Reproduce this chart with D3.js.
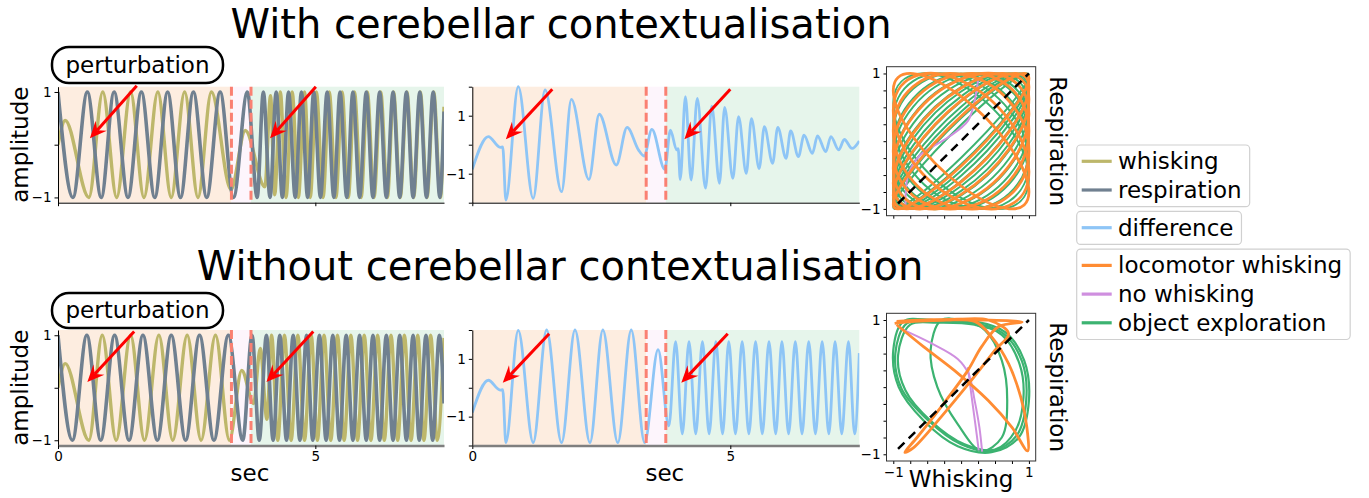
<!DOCTYPE html>
<html>
<head>
<meta charset="utf-8">
<script src="https://cdn.jsdelivr.net/npm/d3@7"></script>
<style>
  body { margin: 0; background: #fff; }
  svg { display: block; font-family: "DejaVu Sans", sans-serif; }
</style>
</head>
<body>
<svg id="canvas" width="1369" height="498"></svg>
<script>
// ---- data ----
const tRange = [0, 7.5];
const perturbation = [3.37, 3.75];
const secTicks = [0, 5];
const ampTicks = [-1, 0, 1];
const diffTicks = [-2, -1, 0, 1, 2];
const phaseTicks = [-1, -0.75, -0.5, -0.25, 0, 0.25, 0.5, 0.75, 1];

// extrema [sec, value] of each trace
const respTop = [[0,1],[0.29,-1],[0.57,1],[0.84,-1],[1.09,1],[1.36,-1],[1.62,1],[1.88,-1],[2.13,1],[2.38,-1],[2.63,1],[2.89,-1],[3.15,1],[3.41,-1],[3.68,1],[3.87,-1],[3.99,1],[4.12,-1],[4.24,1],[4.36,-1],[4.48,1],[4.61,-1],[4.73,1],[4.85,-1],[4.97,1],[5.10,-1],[5.23,1],[5.36,-1],[5.48,1],[5.61,-1],[5.73,1],[5.86,-1],[5.99,1],[6.12,-1],[6.25,1],[6.38,-1],[6.51,1],[6.64,-1],[6.77,1],[6.90,-1],[7.03,1],[7.16,-1],[7.29,1],[7.42,-1],[7.5,0.63]];
const whiskTop = [[0,0],[0.14,0.46],[0.60,-1],[0.87,1],[1.14,-1],[1.41,1],[1.67,-1],[1.94,1],[2.20,-1],[2.46,1],[2.72,-1],[2.98,1],[3.36,-0.85],[3.64,0.27],[4.02,-0.8],[4.13,0.93],[4.21,-0.95],[4.32,1],[4.43,-1],[4.55,1],[4.67,-1],[4.79,1],[4.90,-1],[5.02,1],[5.15,-1],[5.27,1],[5.40,-1],[5.52,1],[5.64,-1],[5.76,1],[5.89,-1],[6.01,1],[6.14,-1],[6.27,1],[6.40,-1],[6.52,1],[6.65,-1],[6.78,1],[6.91,-1],[7.04,1],[7.17,-1],[7.30,1],[7.43,-1],[7.5,0.72]];
const diffTop = [[0,-0.85],[0.31,0.28],[0.54,-0.09],[0.59,-0.08],[0.65,-1.91],[0.89,2.0],[1.18,-1.85],[1.41,1.89],[1.73,-1.62],[1.92,1.56],[2.26,-1.2],[2.46,1.05],[2.79,-0.7],[3.0,0.6],[3.22,-0.18],[3.33,-0.39],[3.48,0.53],[3.73,-0.85],[3.84,0.5],[3.96,-0.18],[3.99,-0.14],[4.03,-1.2],[4.13,1.66],[4.24,-1.22],[4.36,1.6],[4.52,-1.5],[4.64,1.33],[4.79,-1.33],[4.89,1.29],[5.05,-1.16],[5.16,0.97],[5.31,-0.99],[5.41,0.9],[5.56,-0.82],[5.66,0.62],[5.82,-0.64],[5.92,0.6],[6.08,-0.47],[6.17,0.48],[6.32,-0.41],[6.43,0.33],[6.59,-0.3],[6.69,0.3],[6.85,-0.24],[6.95,0.28],[7.1,-0.18],[7.21,0.18],[7.36,-0.13],[7.5,0.13]];

const respBottom = [[0,1],[0.28,-1],[0.56,1],[0.83,-1],[1.10,1],[1.38,-1],[1.65,1],[1.93,-1],[2.20,1],[2.48,-1],[2.75,1],[3.03,-1],[3.31,1],[3.59,-1],[3.77,1],[3.91,-1],[4.05,1],[4.18,-1],[4.31,1],[4.44,-1],[4.57,1],[4.70,-1],[4.83,1],[4.95,-1],[5.08,1],[5.21,-1],[5.34,1],[5.47,-1],[5.60,1],[5.73,-1],[5.86,1],[5.99,-1],[6.12,1],[6.25,-1],[6.38,1],[6.51,-1],[6.64,1],[6.77,-1],[6.90,1],[7.02,-1],[7.15,1],[7.28,-1],[7.41,1],[7.5,-0.3]];
const whiskBottom = [[0,0],[0.14,0.46],[0.60,-1],[0.86,1],[1.13,-1],[1.41,1],[1.68,-1],[1.96,1],[2.23,-1],[2.51,1],[2.78,-1],[3.06,1],[3.33,-1],[3.57,0.33],[3.80,-0.3],[3.93,0.75],[4.06,-0.6],[4.15,1],[4.27,-1],[4.40,1],[4.53,-1],[4.66,1],[4.79,-1],[4.92,1],[5.04,-1],[5.17,1],[5.30,-1],[5.43,1],[5.56,-1],[5.69,1],[5.82,-1],[5.95,1],[6.08,-1],[6.21,1],[6.34,-1],[6.47,1],[6.60,-1],[6.73,1],[6.86,-1],[6.99,1],[7.11,-1],[7.24,1],[7.37,-1],[7.5,0.95]];
const diffBottom = [[0,-0.86],[0.31,0.26],[0.54,-0.08],[0.59,-0.07],[0.65,-1.9],[0.89,1.99],[1.18,-1.9],[1.44,2.0],[1.73,-1.9],[1.99,2.0],[2.28,-1.9],[2.53,2.0],[2.82,-1.9],[3.08,2.0],[3.34,-1.9],[3.6,1.32],[3.81,-1.32],[3.94,1.6],[4.07,-1.6],[4.2,1.6],[4.33,-1.6],[4.46,1.6],[4.59,-1.6],[4.72,1.6],[4.85,-1.6],[4.97,1.6],[5.10,-1.6],[5.23,1.6],[5.36,-1.6],[5.49,1.6],[5.62,-1.6],[5.75,1.6],[5.88,-1.6],[6.0,1.6],[6.13,-1.6],[6.26,1.6],[6.39,-1.6],[6.52,1.6],[6.65,-1.6],[6.78,1.6],[6.91,-1.6],[7.03,1.6],[7.16,-1.6],[7.29,1.6],[7.41,-1.6],[7.5,1.2]];

// arrows [tail sec, tail value, tip sec, tip value]
const arrowsAmpTop = [[1.53,1.12,0.62,0.12],[5.01,1.10,4.12,0.12]];
const arrowsDiffTop = [[1.55,1.91,0.65,0.19],[5.0,1.91,4.11,0.19]];
const arrowsAmpBottom = [[1.48,1.07,0.57,0.11],[4.96,1.07,4.05,0.11]];
const arrowsDiffBottom = [[1.49,1.87,0.59,0.17],[4.95,1.87,4.05,0.17]];

// phase plots: top loops given by where each loop touches the frame (whisking = 1 at respiration = c)
const greenTopLoops = [-0.55,-0.3,-0.1,0.1,0.25,0.38,0.5,0.6,0.68,0.75,0.81,0.86,0.9,0.94,0.97];
const orangeTopLoops = [-0.75,-0.45,-0.15,0.15,0.4,0.62,0.8,0.93];
const purpleTop = [[-0.82,-0.97],[-0.78,-0.5],[-0.6,-0.2],[-0.2,0.05],[0.1,0.3],[0.2,0.6],[0.25,0.9]];

const greenBottom = [
  [[-0.85,0.98],[-1.0,0.55],[-0.92,0.0],[-0.55,-0.5],[-0.05,-0.88],[0.45,-0.97],[0.85,-0.75],[1.0,-0.2],[0.93,0.4],[0.65,0.82],[0.2,0.98],[-0.4,1.0]],
  [[-0.8,0.95],[-0.97,0.5],[-0.88,-0.02],[-0.5,-0.48],[0.0,-0.85],[0.47,-0.95],[0.82,-0.72],[0.96,-0.2],[0.9,0.38],[0.62,0.8],[0.2,0.95],[-0.38,0.98]],
  [[-0.75,0.93],[-0.93,0.47],[-0.82,-0.05],[-0.45,-0.5],[0.05,-0.85],[0.5,-0.93],[0.8,-0.65],[0.92,-0.15],[0.86,0.35],[0.6,0.78],[0.2,0.93],[-0.35,0.96]],
  [[-0.3,0.99],[-0.45,0.55],[-0.35,0.0],[-0.05,-0.55],[0.3,-0.95],[0.6,-0.75],[0.68,-0.2],[0.6,0.4],[0.35,0.85],[0.0,1.0]]
];
const orangeBottom = [
  [[-0.98,0.95],[-0.45,1.0],[0.3,1.0],[0.9,0.97],[0.55,0.9],[0.3,0.6],[0.1,0.25],[-0.3,-0.3],[-0.65,-0.75],[-0.83,-0.97],[-0.7,-0.9],[-0.3,-0.45],[0.15,0.1],[0.5,0.55],[0.7,0.8],[0.4,1.0],[-0.2,1.0],[-0.95,0.97]],
  [[-0.95,0.93],[-0.55,0.6],[-0.1,0.25],[0.4,-0.2],[0.75,-0.6],[0.98,-0.95],[0.97,-0.6],[0.88,-0.15],[0.7,0.35],[0.45,0.75],[0.2,0.98],[-0.4,1.0],[-0.95,0.98]]
];
const purpleBottom = [
  [[-0.91,0.88],[-0.45,0.66],[-0.05,0.42],[0.11,0.2],[0.2,-0.2],[0.27,-0.6],[0.31,-0.96]],
  [[0.1,0.3],[0.15,-0.1],[0.21,-0.55],[0.26,-0.94]]
];
const diagonal = [[-0.93,-0.92],[1,1]];

const legendGroups = [
  ['whisking', 'respiration'],
  ['difference'],
  ['locomotor whisking', 'no whisking', 'object exploration']
];

// ---- styles ----
const colors = {
  'whisking': '#bdb76b',
  'respiration': '#708090',
  'difference': '#8ec5f6',
  'locomotor whisking': '#ff8c33',
  'no whisking': '#cf8fdf',
  'object exploration': '#3cb371'
};
const bgColors = ['#fdede0', '#fdf5fc', '#e6f5eb'];
const pertColor = '#fa8072';
const labelSize = 23;
const tickSize = 13.5;

const svg = d3.select('#canvas');
const fmt = d3.format('d');
let clipN = 0;

function styleAxis(a) {
  a.attr('font-size', tickSize).attr('font-family', null);
  a.selectAll('line').attr('stroke', '#000');
}

function addClip(x0, y0, w, h) {
  const id = 'clip' + (clipN++);
  svg.append('clipPath').attr('id', id)
    .append('rect').attr('x', x0).attr('y', y0).attr('width', w).attr('height', h);
  return `url(#${id})`;
}

// red annotation arrow, head drawn in pixel space
function drawArrows(g, x, y, list) {
  list.forEach(a => {
    const x0 = x(a[0]), y0 = y(a[1]), x1 = x(a[2]), y1 = y(a[3]);
    const ang = Math.atan2(y1 - y0, x1 - x0);
    const cs = Math.cos(ang), sn = Math.sin(ang);
    const L = 17, W = 7.5, N = 11;
    g.append('line')
      .attr('x1', x0).attr('y1', y0)
      .attr('x2', x1 - N * cs).attr('y2', y1 - N * sn)
      .attr('stroke', 'red').attr('stroke-width', 3);
    const bx = x1 - L * cs, by = y1 - L * sn;
    const p = d3.path();
    p.moveTo(x1, y1);
    p.lineTo(bx - W * sn, by + W * cs);
    p.lineTo(x1 - N * cs, y1 - N * sn);
    p.lineTo(bx + W * sn, by - W * cs);
    p.closePath();
    g.append('path').attr('d', p.toString()).attr('fill', 'red');
  });
}

function timePanel(box, yDomain, yTicks, series, arrows, showX) {
  const x = d3.scaleLinear().domain(tRange).range([box.x0, box.x1]);
  const y = d3.scaleLinear().domain(yDomain).range([box.y1, box.y0]);
  const g = svg.append('g');
  const clip = addClip(box.x0, box.y0 - 2, box.x1 - box.x0, box.y1 - box.y0 + 4);

  const edges = [tRange[0], perturbation[0], perturbation[1], tRange[1]];
  g.selectAll('rect.bg')
    .data(bgColors)
    .join('rect')
      .attr('class', 'bg')
      .attr('x', (d, i) => x(edges[i]))
      .attr('width', (d, i) => x(edges[i + 1]) - x(edges[i]))
      .attr('y', box.y0)
      .attr('height', box.y1 - box.y0)
      .attr('fill', d => d);

  const line = d3.line()
    .x(d => x(d[0]))
    .y(d => y(d[1]))
    .curve(d3.curveMonotoneX);

  series.forEach(s => {
    g.append('path')
      .attr('clip-path', clip)
      .attr('d', line(s.data))
      .attr('fill', 'none')
      .attr('stroke', colors[s.key])
      .attr('stroke-width', s.width)
      .attr('stroke-linejoin', 'round');
  });

  g.selectAll('line.pert')
    .data(perturbation)
    .join('line')
      .attr('class', 'pert')
      .attr('x1', d => x(d)).attr('x2', d => x(d))
      .attr('y1', box.y0).attr('y2', box.y1)
      .attr('stroke', pertColor)
      .attr('stroke-width', 3)
      .attr('stroke-dasharray', '9,4');

  const ya = g.append('g')
    .attr('transform', `translate(${box.x0},0)`)
    .call(d3.axisLeft(y).tickValues(yTicks).tickSize(3.5).tickPadding(3).tickSizeOuter(0)
      .tickFormat(d => Math.abs(d) === 1 ? fmt(d) : ''));
  styleAxis(ya);

  const xa = g.append('g')
    .attr('transform', `translate(0,${box.y1})`)
    .call(d3.axisBottom(x).tickValues(secTicks).tickSize(3.5).tickPadding(2).tickSizeOuter(0)
      .tickFormat(showX ? fmt : ''));
  styleAxis(xa);
  if (showX) xa.select('.domain').attr('stroke', '#7f7f7f').attr('stroke-width', 2.5);

  drawArrows(g, x, y, arrows);
  return { x, y };
}

function phasePanel(box, showX) {
  const x = d3.scaleLinear().domain([-1.1, 1.1]).range([box.x0, box.x1]);
  const y = d3.scaleLinear().domain([-1.1, 1.1]).range([box.y1, box.y0]);
  const g = svg.append('g');
  const clip = addClip(box.x0, box.y0, box.x1 - box.x0, box.y1 - box.y0);
  const inner = g.append('g').attr('clip-path', clip);

  const ya = g.append('g')
    .attr('transform', `translate(${box.x0},0)`)
    .call(d3.axisLeft(y).tickValues(phaseTicks).tickSize(3).tickPadding(3).tickSizeOuter(0)
      .tickFormat(d => Math.abs(d) === 1 ? fmt(d) : ''));
  styleAxis(ya);
  ya.select('.domain').remove();

  const xa = g.append('g')
    .attr('transform', `translate(0,${box.y1})`)
    .call(d3.axisBottom(x).tickValues(phaseTicks).tickSize(3).tickPadding(3).tickSizeOuter(0)
      .tickFormat(d => showX && Math.abs(d) === 1 ? fmt(d) : ''));
  styleAxis(xa);
  xa.select('.domain').remove();

  g.append('rect')
    .attr('x', box.x0).attr('y', box.y0)
    .attr('width', box.x1 - box.x0).attr('height', box.y1 - box.y0)
    .attr('fill', 'none').attr('stroke', '#333').attr('stroke-width', 1);

  g.append('text')
    .attr('transform', `translate(${box.x1 + 14},${(box.y0 + box.y1) / 2}) rotate(90)`)
    .attr('text-anchor', 'middle')
    .attr('font-size', labelSize)
    .text('Respiration');

  return { x, y, inner, g };
}

// ellipse through the frame touch points, unit circle mapped by the scales
function loopTransform(x, y, c) {
  const s = Math.sqrt(1 - c * c);
  const kx = x(1) - x(0), ky = y(0) - y(1);
  return `matrix(${kx},${-ky * c},0,${-ky * s},${x(0)},${y(0)})`;
}

function drawLoops(p, data, key, width) {
  p.inner.append('g').selectAll('circle')
    .data(data)
    .join('circle')
      .attr('r', 1)
      .attr('transform', c => loopTransform(p.x, p.y, c))
      .attr('fill', 'none')
      .attr('stroke', colors[key])
      .attr('stroke-width', width)
      .attr('vector-effect', 'non-scaling-stroke');
}

function drawPaths(p, data, key, width, closed) {
  const line = d3.line()
    .x(d => p.x(d[0]))
    .y(d => p.y(d[1]))
    .curve(closed ? d3.curveCatmullRomClosed : d3.curveCatmullRom);
  p.inner.append('g').selectAll('path')
    .data(data)
    .join('path')
      .attr('d', line)
      .attr('fill', 'none')
      .attr('stroke', colors[key])
      .attr('stroke-width', width)
      .attr('stroke-linejoin', 'round');
}

function drawDiagonal(p) {
  p.inner.append('path')
    .attr('d', d3.line().x(d => p.x(d[0])).y(d => p.y(d[1]))(diagonal))
    .attr('stroke', '#000').attr('stroke-width', 2.5)
    .attr('stroke-dasharray', '9,6').attr('fill', 'none');
}

// ---- layout ----
const boxes = {
  ampTop:   { x0: 58,    x1: 444,   y0: 86.7, y1: 202.7 },
  diffTop:  { x0: 472.3, x1: 859.3, y0: 86.7, y1: 202.7 },
  ampBot:   { x0: 58,    x1: 444,   y0: 330,  y1: 445.5 },
  diffBot:  { x0: 472.3, x1: 859.3, y0: 330,  y1: 445.5 },
  phaseTop: { x0: 886.5, x1: 1035.7, y0: 66.7, y1: 215.7 },
  phaseBot: { x0: 886.5, x1: 1035.7, y0: 313.3, y1: 461 }
};

// titles
svg.append('text').attr('x', 561).attr('y', 38).attr('text-anchor', 'middle')
  .attr('font-size', 40).text('With cerebellar contextualisation');
svg.append('text').attr('x', 560).attr('y', 280).attr('text-anchor', 'middle')
  .attr('font-size', 40).text('Without cerebellar contextualisation');

// time panels
timePanel(boxes.ampTop, [-1.1, 1.1], ampTicks,
  [{ key: 'whisking', data: whiskTop, width: 3.4 }, { key: 'respiration', data: respTop, width: 3.6 }],
  arrowsAmpTop, false);
timePanel(boxes.diffTop, [-2, 2], diffTicks,
  [{ key: 'difference', data: diffTop, width: 2.8 }],
  arrowsDiffTop, false);
timePanel(boxes.ampBot, [-1.1, 1.1], ampTicks,
  [{ key: 'whisking', data: whiskBottom, width: 3.4 }, { key: 'respiration', data: respBottom, width: 3.6 }],
  arrowsAmpBottom, true);
timePanel(boxes.diffBot, [-2, 2], diffTicks,
  [{ key: 'difference', data: diffBottom, width: 2.8 }],
  arrowsDiffBottom, true);

// axis labels
[boxes.ampTop, boxes.ampBot].forEach(b => {
  svg.append('text')
    .attr('transform', `translate(28,${(b.y0 + b.y1) / 2}) rotate(-90)`)
    .attr('text-anchor', 'middle').attr('font-size', labelSize).text('amplitude');
});
[boxes.ampBot, boxes.diffBot].forEach(b => {
  svg.append('text')
    .attr('x', (b.x0 + b.x1) / 2 - 1).attr('y', 481)
    .attr('text-anchor', 'middle').attr('font-size', labelSize).text('sec');
});

// perturbation pills
[[47, 83], [293, 328]].forEach(r => {
  svg.append('rect')
    .attr('x', 52).attr('y', r[0]).attr('width', 171).attr('height', r[1] - r[0])
    .attr('rx', 17).attr('ry', 17)
    .attr('fill', '#fff').attr('stroke', '#000').attr('stroke-width', 2.5);
  svg.append('text')
    .attr('x', 137.5).attr('y', (r[0] + r[1]) / 2 + 7.5)
    .attr('text-anchor', 'middle').attr('font-size', labelSize).text('perturbation');
});

// phase plots
const pTop = phasePanel(boxes.phaseTop, false);
drawLoops(pTop, greenTopLoops, 'object exploration', 2);
drawPaths(pTop, [purpleTop], 'no whisking', 2, false);
drawLoops(pTop, orangeTopLoops, 'locomotor whisking', 2.8);
drawDiagonal(pTop);

const pBot = phasePanel(boxes.phaseBot, true);
drawPaths(pBot, greenBottom, 'object exploration', 2.2, true);
drawPaths(pBot, purpleBottom, 'no whisking', 2, false);
drawPaths(pBot, orangeBottom, 'locomotor whisking', 2.8, false);
drawDiagonal(pBot);
svg.append('text')
  .attr('x', (boxes.phaseBot.x0 + boxes.phaseBot.x1) / 2).attr('y', 487)
  .attr('text-anchor', 'middle').attr('font-size', labelSize).text('Whisking');

// legend
const legend = svg.append('g');
let ly = 145;
legendGroups.forEach(group => {
  const h = (group.length - 1) * 28.7 + 33;
  const box = legend.append('rect')
    .attr('x', 1076.7).attr('y', ly).attr('height', h)
    .attr('rx', 4).attr('fill', '#fff').attr('stroke', '#d0d0d0').attr('stroke-width', 1.2);
  let maxW = 0;
  group.forEach((name, i) => {
    const cy = ly + 16.3 + i * 28.7;
    legend.append('line')
      .attr('x1', 1081.7).attr('x2', 1111.7).attr('y1', cy).attr('y2', cy)
      .attr('stroke', colors[name]).attr('stroke-width', 3.2);
    const t = legend.append('text')
      .attr('x', 1118).attr('y', cy).attr('dy', '0.35em')
      .attr('font-size', labelSize).text(name);
    maxW = Math.max(maxW, t.node().getComputedTextLength());
  });
  box.attr('width', 1118 + maxW + 8 - 1076.7);
  ly += h + 4.7;
});
</script>
</body>
</html>
